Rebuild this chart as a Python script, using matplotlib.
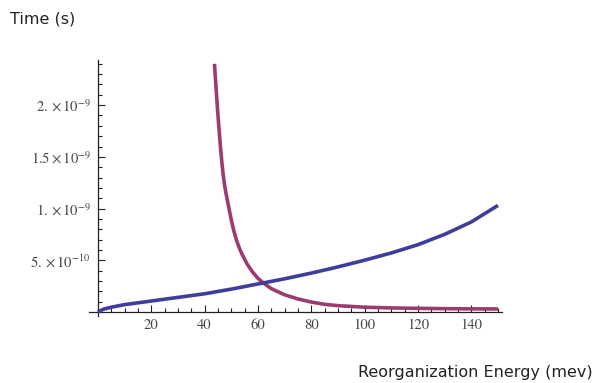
import matplotlib
matplotlib.use("Agg")
import matplotlib.pyplot as plt
from matplotlib.ticker import MultipleLocator, FixedLocator

# Data (time in seconds, energy in meV)
blue_x = [0, 2, 5, 10, 20, 30, 40, 50, 60, 70, 80, 90, 100, 110, 120, 130, 140, 150]
blue_y = [0.0, 0.025e-9, 0.045e-9, 0.07e-9, 0.105e-9, 0.14e-9, 0.175e-9, 0.22e-9,
          0.27e-9, 0.32e-9, 0.375e-9, 0.435e-9, 0.50e-9, 0.57e-9, 0.65e-9, 0.75e-9,
          0.87e-9, 1.03e-9]

red_x = [43.7, 44, 44.5, 45, 45.5, 46, 46.5, 47, 47.5, 48, 49, 50, 51, 52, 53, 54, 56,
         58, 60, 62, 65, 70, 75, 80, 85, 90, 100, 110, 120, 130, 140, 150]
red_y = [2.40e-9, 2.28e-9, 2.09e-9, 1.905e-9, 1.74e-9, 1.58e-9, 1.44e-9, 1.32e-9,
         1.225e-9, 1.15e-9, 1.02e-9, 0.89e-9, 0.78e-9, 0.69e-9, 0.62e-9, 0.56e-9,
         0.46e-9, 0.385e-9, 0.325e-9, 0.28e-9, 0.225e-9, 0.165e-9, 0.125e-9, 0.095e-9,
         0.073e-9, 0.060e-9, 0.045e-9, 0.038e-9, 0.034e-9, 0.031e-9, 0.029e-9, 0.028e-9]

x_ticks = [20, 40, 60, 80, 100, 120, 140]
y_ticks = [5e-10, 1e-9, 1.5e-9, 2e-9]
y_tick_labels = [r"$5.\times10^{-10}$", r"$1.\times10^{-9}$",
                 r"$1.5\times10^{-9}$", r"$2.\times10^{-9}$"]

plt.rcParams["mathtext.fontset"] = "stix"

fig = plt.figure(figsize=(5.95, 3.83), dpi=100)
ax = fig.add_axes([97.7 / 595 - 3.5 * (404.3 / 155) / 595, 1 - 316 / 383,
                   (502 - 88.6) / 595, (316 - 60) / 383])
ax.set_xlim(-3.5, 151.5)
ax.set_ylim(-0.04e-9, 2.437e-9)

ax.plot(red_x, red_y, color="#9a3c70", lw=2.6, solid_capstyle="butt", zorder=3)
ax.plot(blue_x, blue_y, color="#3d3d9b", lw=2.6, solid_capstyle="butt", zorder=3)

for s in ["top", "right"]:
    ax.spines[s].set_visible(False)
ax.spines["left"].set_position(("data", 0))
ax.spines["bottom"].set_position(("data", 0))
for s in ["left", "bottom"]:
    ax.spines[s].set_linewidth(0.9)
    ax.spines[s].set_color("#222222")

ax.xaxis.set_major_locator(FixedLocator(x_ticks))
ax.xaxis.set_minor_locator(MultipleLocator(5))
ax.yaxis.set_major_locator(FixedLocator(y_ticks))
ax.yaxis.set_minor_locator(MultipleLocator(1e-10))
ax.set_yticklabels(y_tick_labels)
ax.set_xticklabels([str(v) for v in x_ticks])

ax.tick_params(which="both", direction="in", color="#222222", width=0.8,
               labelsize=10.5, labelcolor="#444444")
ax.tick_params(which="major", length=5, pad=5)
ax.tick_params(which="minor", length=2.8)
for lab in ax.get_xticklabels():
    lab.set_fontfamily("STIXGeneral")

fig.text(10 / 595, 1 - 19 / 383, "Time (s)", fontsize=11.5, family="DejaVu Sans",
         va="center", ha="left", color="#222222")
fig.text(593 / 595, 1 - 372 / 383, "Reorganization Energy (mev)", fontsize=11.5,
         family="DejaVu Sans", va="center", ha="right", color="#222222")

fig.savefig("out.png", dpi=100)
